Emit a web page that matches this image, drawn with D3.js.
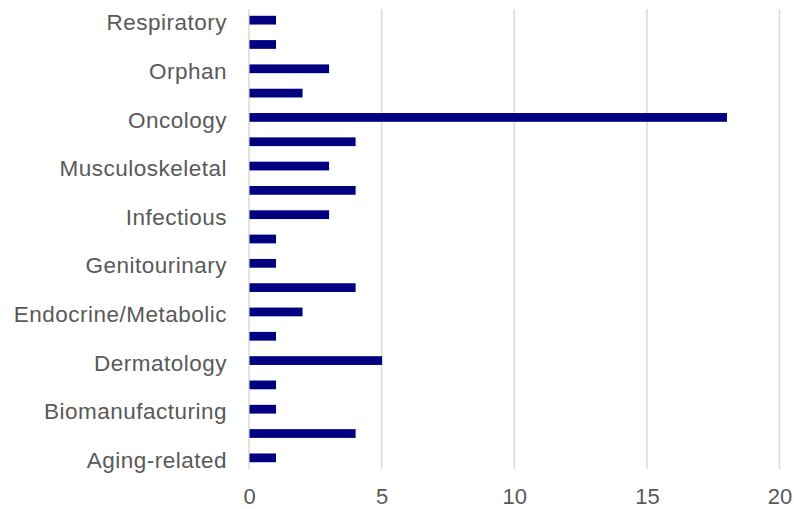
<!DOCTYPE html>
<html><head><meta charset="utf-8">
<script src="https://cdn.jsdelivr.net/npm/d3@7"></script>
<style>body{margin:0;background:#fff}svg{display:block}</style>
</head><body>
<script>
const categories = ["Aging-related","Autoimmune","Biomanufacturing","Cardiovascular","Dermatology","Diagnostics","Endocrine/Metabolic","Gastrointestinal","Genitourinary","Hematology","Infectious","Inflammation","Musculoskeletal","Neurology","Oncology","Ophthalmology","Orphan","Psychiatry","Respiratory"];
const values = [1,4,1,1,5,1,2,4,1,1,3,4,3,4,18,2,3,1,1];
const shownLabels = ["Aging-related","Biomanufacturing","Dermatology","Endocrine/Metabolic","Genitourinary","Infectious","Musculoskeletal","Oncology","Orphan","Respiratory"];
const xTicks = [0,5,10,15,20];

const W=794,H=509;
const svg=d3.select("body").append("svg").attr("width",W).attr("height",H);
const x=d3.scaleLinear().domain([0,20]).range([249,779.5]);
const y=d3.scaleBand().domain(categories.slice().reverse()).range([8,470]).paddingInner(0.64).paddingOuter(0.32);
const font="'Liberation Sans', Arial, sans-serif";

svg.append("g").selectAll("line").data(xTicks).join("line")
  .attr("x1",d=>x(d)).attr("x2",d=>x(d)).attr("y1",9).attr("y2",469)
  .attr("stroke","#d9d9d9").attr("stroke-width",1.5);

svg.append("g").selectAll("rect").data(categories).join("rect")
  .attr("x",x(0)+0.5).attr("y",d=>y(d)).attr("height",y.bandwidth())
  .attr("width",(d,i)=>x(values[i])-x(0)).attr("fill","#000080");

const xa=svg.append("g").attr("transform","translate(0,469)")
  .call(d3.axisBottom(x).tickValues(xTicks).tickSize(0).tickPadding(19));
xa.select(".domain").remove();
xa.selectAll("text").attr("fill","#595959").style("font-family",font).style("font-size","22px");

const ya=svg.append("g").attr("transform","translate(249,0)")
  .call(d3.axisLeft(y).tickSize(0).tickPadding(22).tickFormat(d=>shownLabels.includes(d)?d:""));
ya.select(".domain").remove();
ya.selectAll("text").attr("fill","#595959").attr("dy","0.45em").style("font-family",font).style("font-size","22.5px").style("letter-spacing","0.5px");
</script>
</body></html>
